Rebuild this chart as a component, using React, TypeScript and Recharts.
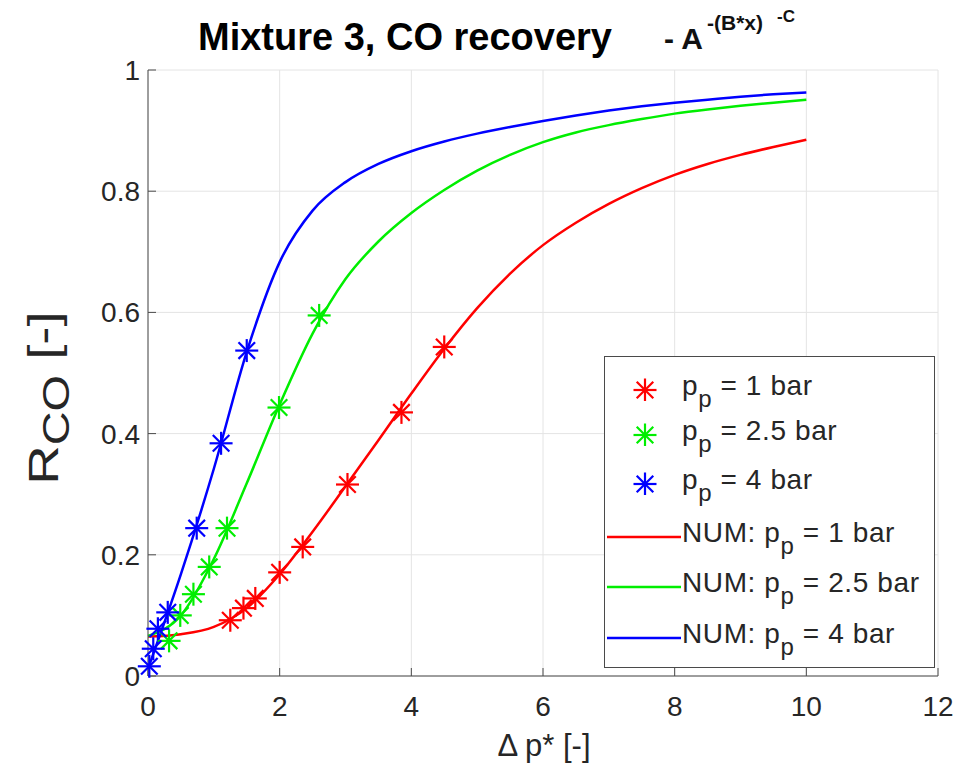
import React from "react";
import { ComposedChart, Line, Scatter, XAxis, YAxis, CartesianGrid } from "recharts";

const FONT = '"Liberation Sans", Arial, Helvetica, sans-serif';
const INK = "#262626";
const AXIS = "#4a4a4a";

const xTicks = [0, 2, 4, 6, 8, 10, 12];
const yTicks = [0, 0.2, 0.4, 0.6, 0.8, 1];

// measured points (stars)
const exp1X = [1.25, 1.45, 1.63, 2.0, 2.35, 3.03, 3.85, 4.5];
const exp1Y = [0.092, 0.112, 0.128, 0.171, 0.213, 0.316, 0.435, 0.543];
const exp25X = [0.32, 0.49, 0.69, 0.93, 1.2, 1.99, 2.6];
const exp25Y = [0.058, 0.1, 0.135, 0.18, 0.244, 0.443, 0.595];
const exp4X = [0.02, 0.08, 0.15, 0.3, 0.74, 1.11, 1.5];
const exp4Y = [0.016, 0.045, 0.078, 0.105, 0.244, 0.384, 0.537];

// fitted curves (NUM), every 0.5
const fitX = [0, 0.5, 1, 1.5, 2, 2.5, 3, 3.5, 4, 4.5, 5, 5.5, 6, 6.5, 7, 7.5, 8, 8.5, 9, 9.5, 10];
const num1Y = [0.065, 0.069, 0.081, 0.112, 0.168, 0.238, 0.313, 0.389, 0.466, 0.54, 0.607, 0.664, 0.711, 0.748, 0.779, 0.805, 0.827, 0.845, 0.86, 0.873, 0.885];
const num25Y = [0.066, 0.1, 0.193, 0.318, 0.448, 0.565, 0.655, 0.717, 0.764, 0.802, 0.834, 0.86, 0.881, 0.897, 0.909, 0.919, 0.928, 0.935, 0.941, 0.946, 0.951];
const num4Y = [0.012, 0.168, 0.342, 0.535, 0.683, 0.768, 0.815, 0.845, 0.866, 0.882, 0.895, 0.906, 0.916, 0.925, 0.933, 0.94, 0.946, 0.951, 0.956, 0.96, 0.963];

const RED = "#ff0000";
const GREEN = "#00ee00";
const BLUE = "#0000ff";

const toPts = (xs: number[], ys: number[]) => xs.map((x, i) => ({ x, y: ys[i] }));

const stars = [
  { name: "1", color: RED, data: toPts(exp1X, exp1Y) },
  { name: "2.5", color: GREEN, data: toPts(exp25X, exp25Y) },
  { name: "4", color: BLUE, data: toPts(exp4X, exp4Y) },
];
const curves = [
  { name: "1", color: RED, data: toPts(fitX, num1Y) },
  { name: "2.5", color: GREEN, data: toPts(fitX, num25Y) },
  { name: "4", color: BLUE, data: toPts(fitX, num4Y) },
];

function Asterisk({ cx, cy, color }: { cx: number; cy: number; color: string }) {
  const r = 11.5;
  const d = r * 0.72;
  return (
    <g stroke={color} strokeWidth={2.2}>
      <line x1={cx - r} y1={cy} x2={cx + r} y2={cy} />
      <line x1={cx} y1={cy - r} x2={cx} y2={cy + r} />
      <line x1={cx - d} y1={cy - d} x2={cx + d} y2={cy + d} />
      <line x1={cx - d} y1={cy + d} x2={cx + d} y2={cy - d} />
    </g>
  );
}

function PP({ bar }: { bar: string }) {
  return (
    <span>
      p<span style={{ position: "relative", top: 12, fontSize: 24 }}>p</span> = {bar} bar
    </span>
  );
}

const legendRows = [
  ...stars.map((s, i) => ({ kind: "star", color: s.color, bar: s.name, cy: [390, 435, 484][i] })),
  ...curves.map((c, i) => ({ kind: "line", color: c.color, bar: c.name, cy: [537, 587, 638][i] })),
];

export default function App() {
  return (
    <div style={{ position: "absolute", left: 0, top: 0, width: 958, height: 766, background: "#fff", fontFamily: FONT }}>
      <ComposedChart width={958} height={766} margin={{ top: 70, right: 20, bottom: 50, left: 88 }}>
        <CartesianGrid stroke="#e4e4e4" />
        <XAxis
          dataKey="x"
          type="number"
          domain={[0, 12]}
          ticks={xTicks}
          height={40}
          stroke={AXIS}
          tickSize={-8}
          tickMargin={28}
          tick={{ fill: INK, fontSize: 28, fontFamily: FONT }}
        />
        <XAxis xAxisId="top" orientation="top" type="number" domain={[0, 12]} ticks={xTicks} height={0} stroke={AXIS} tickSize={-8} tick={false} />
        <YAxis
          dataKey="y"
          type="number"
          domain={[0, 1]}
          ticks={yTicks}
          width={60}
          stroke={AXIS}
          tickSize={-8}
          tickMargin={16}
          tick={{ fill: INK, fontSize: 28, fontFamily: FONT }}
        />
        <YAxis yAxisId="right" orientation="right" type="number" domain={[0, 1]} ticks={yTicks} width={0} stroke={AXIS} tickSize={-8} tick={false} />
        {stars.map((s) => (
          <Scatter
            key={"s" + s.name}
            data={s.data}
            dataKey="y"
            isAnimationActive={false}
            shape={(p: any) => <Asterisk cx={p.cx} cy={p.cy} color={s.color} />}
          />
        ))}
        {curves.map((c) => (
          <Line
            key={"l" + c.name}
            data={c.data}
            dataKey="y"
            type="monotone"
            stroke={c.color}
            strokeWidth={2.5}
            dot={false}
            activeDot={false}
            isAnimationActive={false}
          />
        ))}
      </ComposedChart>

      {/* title */}
      <div style={{ position: "absolute", left: 405, top: 50, transform: "translate(-50%, -80%)", fontSize: 38, fontWeight: 700, color: "#000", whiteSpace: "nowrap" }}>
        Mixture 3, CO recovery
      </div>
      <div style={{ position: "absolute", left: 664, top: 22, fontSize: 30, fontWeight: 700, color: "#111", whiteSpace: "nowrap", lineHeight: "34px" }}>
        - A
        <span style={{ position: "absolute", left: 43, top: -16, fontSize: 21 }}>-(B*x)</span>
        <span style={{ position: "absolute", left: 113, top: -22, fontSize: 17 }}>-C</span>
      </div>

      {/* axis labels */}
      <div style={{ position: "absolute", left: 544, top: 746, transform: "translate(-50%, -50%)", fontSize: 31, color: INK, whiteSpace: "nowrap" }}>
        Δ p* [-]
      </div>
      <div style={{ position: "absolute", left: 44, top: 398, transform: "translate(-50%, -50%) rotate(-90deg) scale(1.3, 1)", fontSize: 42, color: INK, whiteSpace: "nowrap" }}>
        R<span style={{ position: "relative", top: 11, fontSize: 36 }}>CO</span> [-]
      </div>

      {/* legend */}
      <div style={{ position: "absolute", left: 604, top: 356, width: 329, height: 310, border: `1px solid ${AXIS}`, background: "#fff" }} />
      {legendRows.map((r, i) => (
        <div key={i} style={{ position: "absolute", left: 605, top: r.cy - 19, height: 30, display: "flex", alignItems: "center", fontSize: 28, letterSpacing: 0.6, color: INK, whiteSpace: "nowrap", lineHeight: "30px" }}>
          <svg width={76} height={30} style={{ display: "block" }}>
            {r.kind === "star" ? (
              <Asterisk cx={40} cy={19} color={r.color} />
            ) : (
              <line x1={2} y1={19} x2={76} y2={19} stroke={r.color} strokeWidth={2.5} />
            )}
          </svg>
          <span style={{ marginLeft: 1 }}>
            {r.kind === "line" ? "NUM: " : ""}
            <PP bar={r.bar} />
          </span>
        </div>
      ))}
    </div>
  );
}
